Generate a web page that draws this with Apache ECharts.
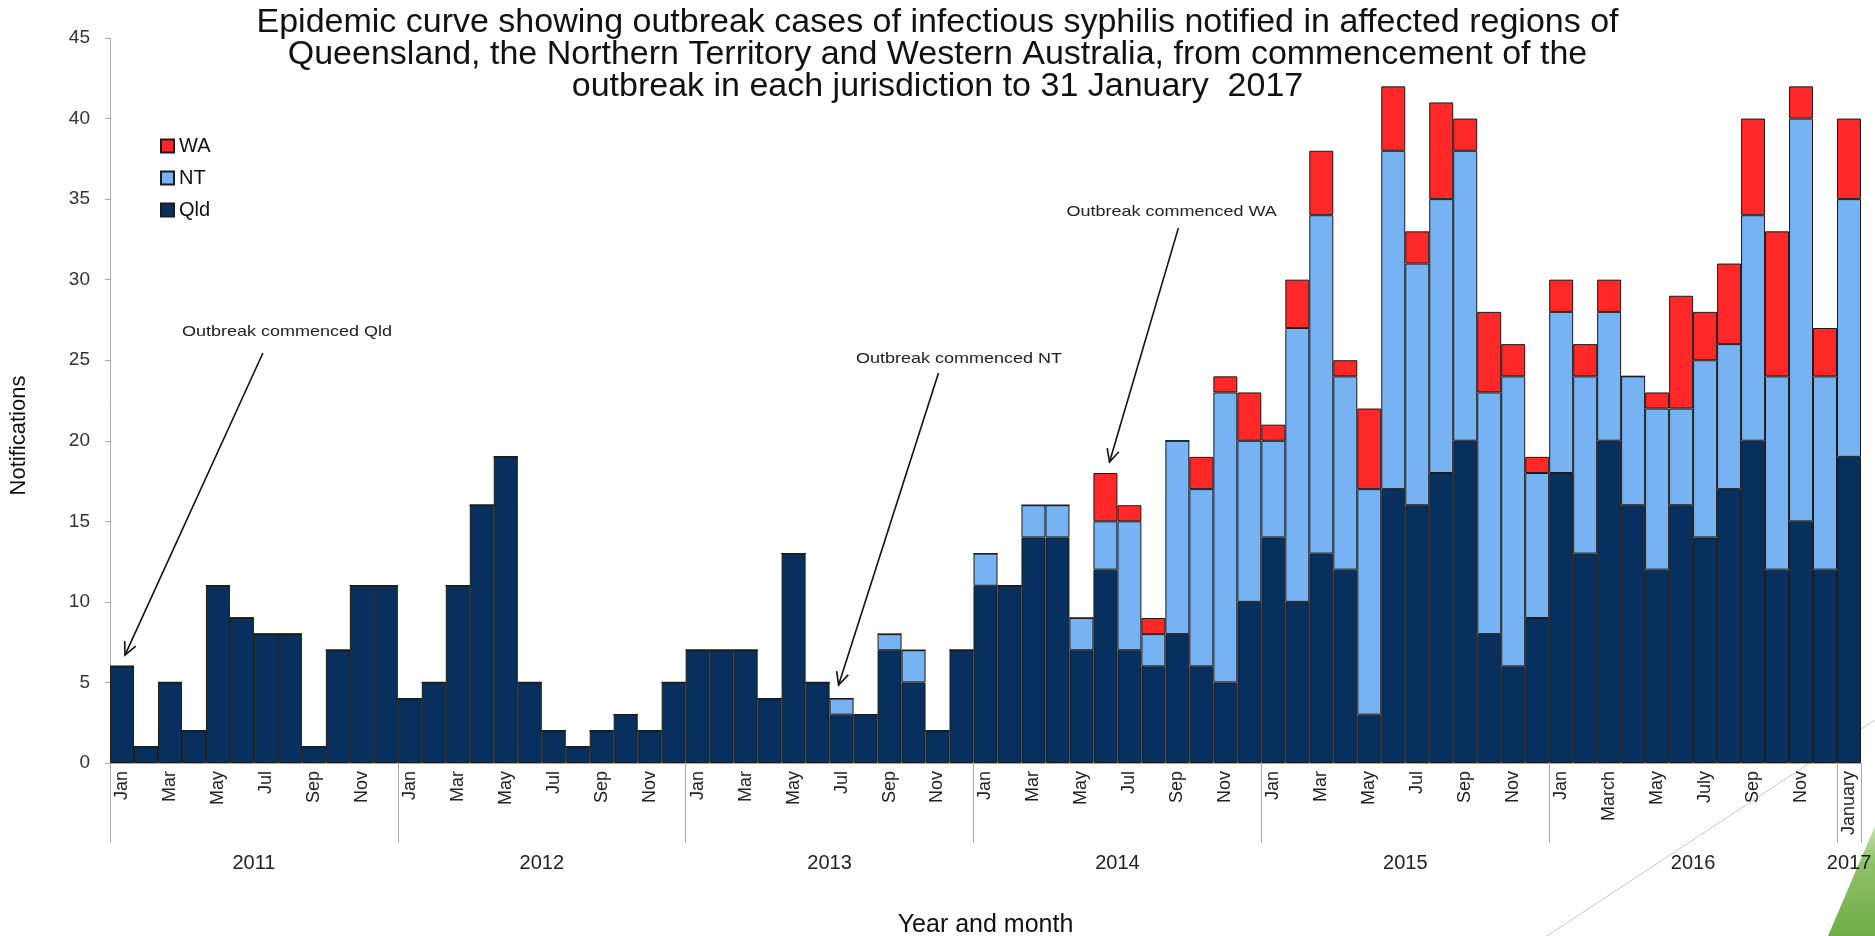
<!DOCTYPE html>
<html><head><meta charset="utf-8">
<script src="https://cdn.jsdelivr.net/npm/echarts@6/dist/echarts.min.js"></script>
<style>html,body{margin:0;padding:0;background:#fff}#c{width:1875px;height:936px}</style>
</head><body><div id="c"></div>
<script>
const categories = [
 'Jan 2011','Feb 2011','Mar 2011','Apr 2011','May 2011','Jun 2011','Jul 2011','Aug 2011','Sep 2011','Oct 2011','Nov 2011','Dec 2011',
 'Jan 2012','Feb 2012','Mar 2012','Apr 2012','May 2012','Jun 2012','Jul 2012','Aug 2012','Sep 2012','Oct 2012','Nov 2012','Dec 2012',
 'Jan 2013','Feb 2013','Mar 2013','Apr 2013','May 2013','Jun 2013','Jul 2013','Aug 2013','Sep 2013','Oct 2013','Nov 2013','Dec 2013',
 'Jan 2014','Feb 2014','Mar 2014','Apr 2014','May 2014','Jun 2014','Jul 2014','Aug 2014','Sep 2014','Oct 2014','Nov 2014','Dec 2014',
 'Jan 2015','Feb 2015','Mar 2015','Apr 2015','May 2015','Jun 2015','Jul 2015','Aug 2015','Sep 2015','Oct 2015','Nov 2015','Dec 2015',
 'Jan 2016','Feb 2016','Mar 2016','Apr 2016','May 2016','Jun 2016','Jul 2016','Aug 2016','Sep 2016','Oct 2016','Nov 2016','Dec 2016',
 'Jan 2017'
];
const monthTickLabels = [
 'Jan','','Mar','','May','','Jul','','Sep','','Nov','',
 'Jan','','Mar','','May','','Jul','','Sep','','Nov','',
 'Jan','','Mar','','May','','Jul','','Sep','','Nov','',
 'Jan','','Mar','','May','','Jul','','Sep','','Nov','',
 'Jan','','Mar','','May','','Jul','','Sep','','Nov','',
 'Jan','','March','','May','','July','','Sep','','Nov','',
 'January'
];
const qld = [
 6,1,5,2,11,9,8,8,1,7,11,11,
 4,5,11,16,19,5,2,1,2,3,2,5,
 7,7,7,4,13,5,3,3,7,5,2,7,
 11,11,14,14,7,12,7,6,8,6,5,10,
 14,10,13,12,3,17,16,18,20,8,6,9,
 18,13,20,16,12,16,14,17,20,12,15,12,
 19
];
const nt = [
 0,0,0,0,0,0,0,0,0,0,0,0,
 0,0,0,0,0,0,0,0,0,0,0,0,
 0,0,0,0,0,0,1,0,1,2,0,0,
 2,0,2,2,2,3,8,2,12,11,18,10,
 6,17,21,12,14,21,15,17,18,15,18,9,
 10,11,8,8,10,6,11,9,14,12,25,12,
 16
];
const wa = [
 0,0,0,0,0,0,0,0,0,0,0,0,
 0,0,0,0,0,0,0,0,0,0,0,0,
 0,0,0,0,0,0,0,0,0,0,0,0,
 0,0,0,0,0,3,1,1,0,2,1,3,
 1,3,4,1,5,4,2,6,2,5,2,1,
 2,2,2,0,1,7,3,5,6,9,2,3,
 5
];
const yearLabels = ['2011','2012','2013','2014','2015','2016','2017'];
const yearCenters = [6,18,30,42,54,66,72.5];
const yearDividers = [0,12,24,36,48,60,72,73];

// annotation anchors in month-position units (category i spans i..i+1) and values
const annotations = [
 {text:'Outbreak commenced Qld', tx:3.0, ty:26.75, sx:6.375, sy:25.45, ex:0.625, ey:6.7},
 {text:'Outbreak commenced NT',  tx:31.1, ty:25.1, sx:34.54, sy:24.2, ex:30.375, ey:4.84},
 {text:'Outbreak commenced WA',  tx:39.875, ty:34.2, sx:44.54, sy:33.2, ex:41.67, ey:18.68}
];

const FONT = "'Liberation Sans', Arial, sans-serif";
const chart = echarts.init(document.getElementById('c'), null, {renderer:'canvas'});
const barStyle = c => ({color:c, borderColor:'#1b1b1b', borderWidth:1});
const option = {
  animation:false,
  backgroundColor:'#ffffff',
  textStyle:{fontFamily:FONT},
  title:{
    text:'Epidemic curve showing outbreak cases of infectious syphilis notified in affected regions of\nQueensland, the Northern Territory and Western Australia, from commencement of the\noutbreak in each jurisdiction to 31 January  2017',
    left:'center', top:7, padding:[0,0,0,66],
    textStyle:{fontSize:34, lineHeight:32, fontWeight:'normal', color:'#111', fontFamily:FONT}
  },
  legend:{
    data:['WA','NT','Qld'], orient:'vertical', left:160, top:136, padding:0,
    itemWidth:13, itemHeight:13, itemGap:12, icon:'rect',
    textStyle:{fontSize:20, color:'#111', fontFamily:FONT}
  },
  grid:{left:110, right:14, top:38, bottom:173, containLabel:false, outerBoundsMode:'none'},
  xAxis:[
    {type:'category', data:categories, boundaryGap:true,
     axisLine:{show:true, lineStyle:{color:'#aaaaaa'}},
     axisTick:{show:false},
     axisLabel:{interval:0, rotate:90, margin:8, fontSize:18, color:'#222', fontFamily:FONT,
       formatter:(v,i)=>monthTickLabels[i]}
    },
    {type:'value', min:0, max:73, position:'bottom',
     axisLine:{show:false}, splitLine:{show:false},
     axisTick:{show:true, customValues:yearDividers, length:80, lineStyle:{color:'#aaaaaa'}},
     axisLabel:{customValues:yearCenters, margin:90, fontSize:20, color:'#222', fontFamily:FONT,
       formatter:v=>yearLabels[yearCenters.indexOf(v)]},
     name:'Year and month', nameLocation:'middle', nameGap:150,
     nameTextStyle:{fontSize:25, color:'#111', fontFamily:FONT}
    }
  ],
  yAxis:{type:'value', min:0, max:45, interval:5,
    axisLine:{show:true, lineStyle:{color:'#aaaaaa'}},
    axisTick:{show:true, length:5, lineStyle:{color:'#aaaaaa'}},
    splitLine:{show:false},
    axisLabel:{fontSize:19, color:'#333', margin:20, fontFamily:FONT},
    name:'Notifications', nameLocation:'middle', nameRotate:90, nameGap:80,
    nameTextStyle:{fontSize:22, color:'#111', fontFamily:FONT, padding:[0,70,0,0]}
  },
  series:[
    {name:'Qld', type:'bar', stack:'total', data:qld, barCategoryGap:'0%', itemStyle:barStyle('#08305e')},
    {name:'NT', type:'bar', stack:'total', data:nt, barCategoryGap:'0%', itemStyle:barStyle('#77b2f2')},
    {name:'WA', type:'bar', stack:'total', data:wa, barCategoryGap:'0%', itemStyle:barStyle('#ff2828')}
  ]
};
chart.setOption(option);

function toPx(mx, v){
  const x = chart.convertToPixel({xAxisIndex:1}, mx);
  const y = chart.convertToPixel({yAxisIndex:0}, v);
  return [x, y];
}
const elements = [];
annotations.forEach(a=>{
  const t = toPx(a.tx, a.ty), s = toPx(a.sx, a.sy), e = toPx(a.ex, a.ey);
  elements.push({type:'text', x:t[0], y:t[1], scaleX:1.2,
    style:{text:a.text, fontSize:15, fill:'#222', font:"15px 'Liberation Sans', Arial, sans-serif", textVerticalAlign:'middle', textAlign:'left'}});
  elements.push({type:'line', shape:{x1:s[0], y1:s[1], x2:e[0], y2:e[1]}, style:{stroke:'#111', lineWidth:1.6}});
  const ang = Math.atan2(e[1]-s[1], e[0]-s[0]);
  const L = 14, d = 0.45;
  const p1 = [e[0]-L*Math.cos(ang-d), e[1]-L*Math.sin(ang-d)];
  const p2 = [e[0]-L*Math.cos(ang+d), e[1]-L*Math.sin(ang+d)];
  elements.push({type:'polyline', shape:{points:[p1, e, p2]}, style:{stroke:'#111', lineWidth:1.6, fill:null}});
});
// slide decoration (bottom right)
elements.push({type:'line', silent:true, shape:{x1:1875, y1:720, x2:1547, y2:936}, style:{stroke:'#c8c8c8', lineWidth:1}});
elements.push({type:'polygon', silent:true, shape:{points:[[1875,826],[1875,936],[1828,936]]},
  style:{fill:new echarts.graphic.LinearGradient(0,0,0,1,[{offset:0,color:'#c5e0b4'},{offset:0.35,color:'#8cc265'},{offset:1,color:'#70ad47'}])}});
chart.setOption({graphic:{elements}});
</script></body></html>
